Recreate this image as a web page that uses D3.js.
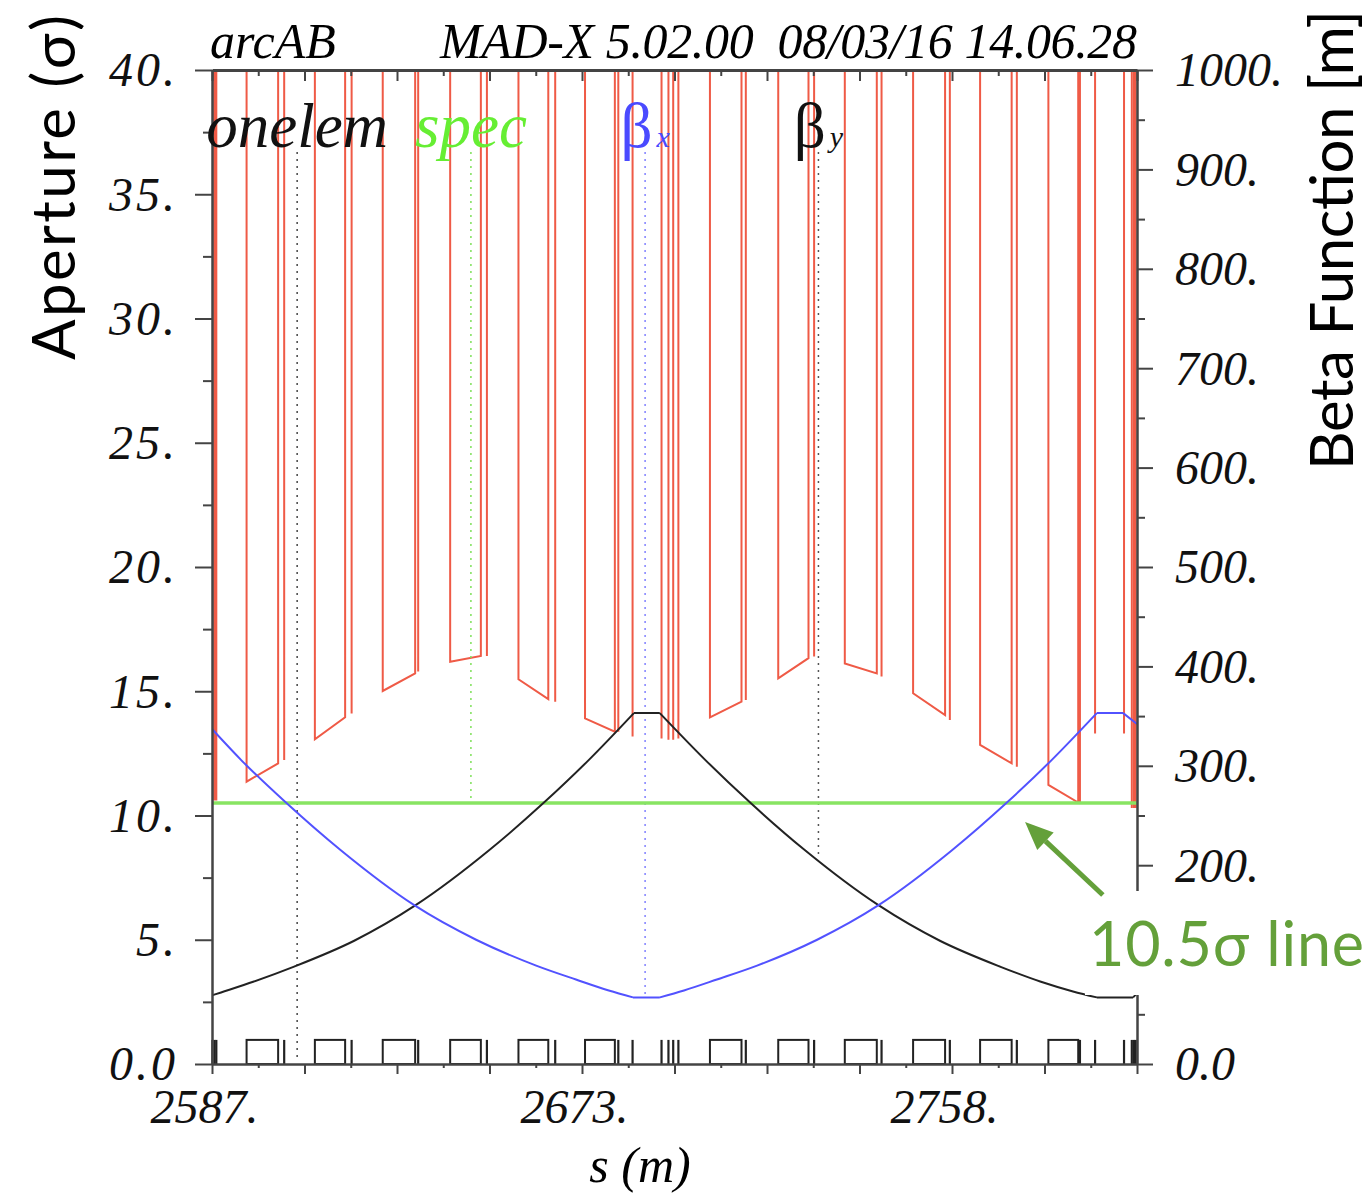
<!DOCTYPE html>
<html>
<head>
<meta charset="utf-8">
<script src="https://cdn.jsdelivr.net/npm/d3@7/dist/d3.min.js"></script>
<style>
	body { margin: 0; background: #fff; }
	text.serif { font-family: "Liberation Serif", "DejaVu Serif", serif; font-style: italic; }
	text.sans { font-family: Lato, "Open Sans", sans-serif; }
</style>
</head>
<body>
<svg id="plot" width="1371" height="1194"></svg>
<script>

// s range of the plot and x tick layout (MAD-X style, labels every 4th major tick)
const S_RANGE = [2587, 2801];
const X_MAJOR_TICKS = d3.range(0, 11).map(k => 2587 + 21.4 * k);
const X_MINOR_TICKS = d3.range(0, 10).map(k => 2587 + 21.4 * k + 10.7);
const X_TICK_LABELS = ['2587.', '', '', '', '2673.', '', '', '', '2758.', '', ''];

const AP_TICKS = [0, 5, 10, 15, 20, 25, 30, 35, 40];
const AP_TICK_LABELS = ['0.0', '5.', '10.', '15.', '20.', '25.', '30.', '35.', '40.'];
const AP_MINOR = [2.5, 7.5, 12.5, 17.5, 22.5, 27.5, 32.5, 37.5];

// the 100. label sits under the annotation box in the original
const BETA_TICKS = [0, 100, 200, 300, 400, 500, 600, 700, 800, 900, 1000];
const BETA_TICK_LABELS = ['0.0', '', '200.', '300.', '400.', '500.', '600.', '700.', '800.', '900.', '1000.'];
const BETA_MINOR = [50, 150, 250, 350, 450, 550, 650, 750, 850, 950];

// dipoles: aperture (sigma) at entrance and exit
const dipoleStart = [2595.0, 2610.8, 2626.5, 2642.1, 2657.9, 2673.3, 2702.2, 2718.0, 2733.4, 2749.2, 2764.7, 2780.5];
const dipoleEnd   = [2602.3, 2617.8, 2634.0, 2649.2, 2664.8, 2680.2, 2709.5, 2725.0, 2740.8, 2756.6, 2772.0, 2787.4];
const dipoleApIn  = [11.36, 13.07, 15.01, 16.19, 15.48, 13.91, 13.95, 15.52, 16.12, 14.92, 12.84, 11.23];
const dipoleApOut = [12.10, 13.95, 15.72, 16.42, 14.68, 13.37, 14.58, 16.33, 15.72, 14.04, 12.10, 10.52];

// short elements (quads, correctors, markers)
const thinS  = [2587.1, 2587.6, 2588.0, 2603.7, 2619.3, 2634.7, 2650.6, 2666.4, 2681.0, 2684.3, 2691.0, 2692.6,
                2693.7, 2694.9, 2710.5, 2726.3, 2741.9, 2757.7, 2773.2, 2787.8, 2791.3, 2798.0, 2799.8, 2800.3, 2800.7];
const thinAp = [10.6, 10.6, 10.6, 12.23, 14.1, 15.79, 16.42, 14.58, 13.37, 13.18, 13.1, 13.05,
                13.05, 13.1, 14.65, 16.4, 15.59, 13.84, 11.96, 10.5, 13.3, 13.3, 10.3, 10.3, 10.3];

// beta functions (m)
const betxS = [2587.0, 2593.7, 2604.1, 2616.8, 2633.7, 2648.1, 2662.0, 2671.2, 2678.8, 2684.4, 2690.6, 2696.2,
               2703.8, 2713.1, 2727.0, 2741.3, 2758.2, 2770.9, 2781.3, 2791.7, 2797.8, 2801.0];
const betxV = [337, 306, 263, 215, 160, 125, 99, 85, 74, 67, 67, 74,
               85, 99, 125, 160, 215, 263, 306, 353, 353, 342];
const betyS = [2587.0, 2589.1, 2596.7, 2606.0, 2619.9, 2634.2, 2651.1, 2663.8, 2674.2, 2684.6, 2690.6, 2701.1,
               2711.5, 2724.2, 2741.1, 2755.4, 2769.3, 2778.6, 2786.2, 2791.7, 2800.1, 2801.0];
const betyV = [69, 72, 83, 98, 124, 160, 215, 263, 306, 353, 353, 306,
               263, 215, 160, 124, 98, 83, 73, 67, 67, 71];

const LIMIT_SIGMA = 10.5;

// legend labels with their dotted pointer lines
const legendNames = ['onelem', 'spec', 'β', 'β'];
const legendSubs  = ['', '', 'x', 'y'];
const legendColors = ['#111', '#66ee33', '#4a4aff', '#111'];
const legendS = [2606.7, 2646.9, 2687.2, 2727.3];
const legendLineEnd = [0.1, 10.7, 2.66, 8.45];   // sigma units
const dotColors = ['#444', '#7ee05a', '#8080ff', '#555'];

// annotation arrow (data coords: s, sigma)
const arrowTail = [2793.1, 6.8];
const arrowHead = [2775.1, 9.74];

const svg = d3.select('#plot');

const x = d3.scaleLinear().domain(S_RANGE).range([212, 1137]);
const yAp = d3.scaleLinear().domain([0, 40]).range([1064, 70]);
const yBeta = d3.scaleLinear().domain([0, 1000]).range([1064, 70]);

svg.append('defs').append('clipPath').attr('id', 'clip')
	.append('rect')
	.attr('x', x(S_RANGE[0])).attr('y', yAp(40))
	.attr('width', x(S_RANGE[1]) - x(S_RANGE[0]))
	.attr('height', yAp(0) - yAp(40));

const plot = svg.append('g').attr('clip-path', 'url(#clip)');

// aperture polyline: each element drops down from far above the frame
const OFF = 45;
let groups = [];
dipoleStart.forEach((s0, i) => {
	groups.push([[s0, OFF], [s0, dipoleApIn[i]], [dipoleEnd[i], dipoleApOut[i]], [dipoleEnd[i], OFF]]);
});
thinS.forEach((s, i) => {
	groups.push([[s, OFF], [s, thinAp[i]], [s, OFF]]);
});
groups.sort((a, b) => a[0][0] - b[0][0]);
const apPts = groups.flat();

const apLine = d3.line().x(d => x(d[0])).y(d => yAp(d[1]));
plot.append('path')
	.attr('d', apLine(apPts))
	.attr('fill', 'none')
	.attr('stroke', '#ef5a46')
	.attr('stroke-width', 2)
	.attr('stroke-linejoin', 'miter');

// dotted pointer lines
plot.selectAll('line.pointer')
	.data(legendS)
	.enter()
	.append('line')
		.attr('x1', d => x(d)).attr('x2', d => x(d))
		.attr('y1', 152)
		.attr('y2', (d, i) => yAp(legendLineEnd[i]))
		.attr('stroke', (d, i) => dotColors[i])
		.attr('stroke-width', 1.5)
		.attr('stroke-dasharray', '2,5');

// 10.5 sigma line
plot.append('path')
	.attr('d', apLine([[S_RANGE[0], LIMIT_SIGMA], [S_RANGE[1], LIMIT_SIGMA]]))
	.attr('stroke', '#88e462')
	.attr('stroke-width', 3.5);

// split a beta curve at its flat (inside-quad) stretches so the corners stay sharp
function betaSegments(sArr, vArr) {
	const pts = sArr.map((s, i) => [s, vArr[i]]);
	const segs = [];
	let cur = [pts[0]];
	for (let i = 1; i < pts.length; i++) {
		const flat = pts[i][1] === pts[i - 1][1];
		const prevFlat = cur.length === 2 && cur[0][1] === cur[1][1];
		if (flat || prevFlat) {
			if (cur.length > 1 && !(flat && prevFlat)) { segs.push(cur); cur = [pts[i - 1]]; }
		}
		cur.push(pts[i]);
	}
	segs.push(cur);
	return segs;
}

const betaLine = d3.line().curve(d3.curveMonotoneX).x(d => x(d[0])).y(d => yBeta(d[1]));
plot.append('path')
	.attr('d', betaSegments(betyS, betyV).map(betaLine).join(''))
	.attr('fill', 'none').attr('stroke', '#222').attr('stroke-width', 2);
plot.append('path')
	.attr('d', betaSegments(betxS, betxV).map(betaLine).join(''))
	.attr('fill', 'none').attr('stroke', '#5252ff').attr('stroke-width', 2);

// element layout along the s axis
const layout = svg.append('g');
layout.selectAll('rect')
	.data(dipoleStart)
	.enter()
	.append('rect')
		.attr('x', d => x(d))
		.attr('y', yAp(0.97))
		.attr('width', (d, i) => x(dipoleEnd[i]) - x(d))
		.attr('height', yAp(0) - yAp(0.97))
		.attr('fill', 'none').attr('stroke', '#222').attr('stroke-width', 2);
layout.selectAll('line')
	.data(thinS)
	.enter()
	.append('line')
		.attr('x1', d => x(d)).attr('x2', d => x(d))
		.attr('y1', yAp(0)).attr('y2', yAp(0.97))
		.attr('stroke', '#222').attr('stroke-width', 2.2);

// axes
const LABEL_SIZE = 48;
function styleAxis(g) {
	g.selectAll('.domain').attr('stroke', '#444').attr('stroke-width', 2.5);
	g.selectAll('.tick line').attr('stroke', '#444').attr('stroke-width', 2);
	g.selectAll('.tick text')
		.attr('class', 'serif')
		.attr('fill', '#111')
		.style('font-size', LABEL_SIZE + 'px');
}

const xBottom = svg.append('g').attr('transform', `translate(0,${yAp(0)})`)
	.call(d3.axisBottom(x).tickValues(X_MAJOR_TICKS).tickSize(10).tickSizeOuter(0)
		.tickFormat((d, i) => X_TICK_LABELS[i]));
styleAxis(xBottom);
xBottom.selectAll('.tick text').attr('y', 59).attr('dy', 0).attr('dx', -8);
svg.append('g').attr('transform', `translate(0,${yAp(0)})`)
	.call(d3.axisBottom(x).tickValues(X_MINOR_TICKS).tickSize(4).tickFormat(''))
	.call(g => { g.select('.domain').remove(); styleAxis(g); });

const xTop = svg.append('g').attr('transform', `translate(0,${yAp(40)})`)
	.call(d3.axisTop(x).tickValues(X_MAJOR_TICKS).tickSize(-11).tickSizeOuter(0).tickFormat(''));
styleAxis(xTop);
xTop.select('.domain').attr('stroke-width', 3);
svg.append('g').attr('transform', `translate(0,${yAp(40)})`)
	.call(d3.axisTop(x).tickValues(X_MINOR_TICKS).tickSize(-6).tickFormat(''))
	.call(g => { g.select('.domain').remove(); styleAxis(g); });

const yLeft = svg.append('g').attr('transform', `translate(${x(S_RANGE[0])},0)`)
	.call(d3.axisLeft(yAp).tickValues(AP_TICKS).tickSize(17).tickSizeOuter(0)
		.tickPadding(17).tickFormat((d, i) => AP_TICK_LABELS[i]));
styleAxis(yLeft);
yLeft.selectAll('.tick text').attr('dy', '0.33em').style('letter-spacing', '3px');
svg.append('g').attr('transform', `translate(${x(S_RANGE[0])},0)`)
	.call(d3.axisLeft(yAp).tickValues(AP_MINOR).tickSize(9).tickFormat(''))
	.call(g => { g.select('.domain').remove(); styleAxis(g); });

const yRight = svg.append('g').attr('transform', `translate(${x(S_RANGE[1])},0)`)
	.call(d3.axisRight(yBeta).tickValues(BETA_TICKS).tickSize(16).tickSizeOuter(0)
		.tickPadding(22).tickFormat((d, i) => BETA_TICK_LABELS[i]));
styleAxis(yRight);
yRight.selectAll('.tick text').attr('dy', '0.33em');
svg.append('g').attr('transform', `translate(${x(S_RANGE[1])},0)`)
	.call(d3.axisRight(yBeta).tickValues(BETA_MINOR).tickSize(8).tickFormat(''))
	.call(g => { g.select('.domain').remove(); styleAxis(g); });

// header
svg.append('text').attr('class', 'serif')
	.attr('x', 210).attr('y', 58)
	.style('font-size', '50px')
	.text('arcAB');
svg.append('text').attr('class', 'serif')
	.attr('x', 440).attr('y', 58)
	.attr('textLength', 697)
	.style('font-size', '50px')
	.style('white-space', 'pre')
	.text('MAD-X 5.02.00  08/03/16 14.06.28');

// legend labels
legendNames.forEach((name, i) => {
	const t = svg.append('text')
		.attr('class', 'serif')
		.attr('x', x(legendS[i]))
		.attr('y', 147)
		.attr('text-anchor', 'middle')
		.attr('fill', legendColors[i])
		.style('font-size', '63px');
	if (legendSubs[i]) {
		t.append('tspan').style('font-style', 'normal').text(name);
		t.append('tspan').style('font-size', '30px').attr('dx', 4).text(legendSubs[i]);
	} else {
		t.text(name);
	}
});

// axis titles
svg.append('text').attr('class', 'sans')
	.attr('transform', 'translate(75,360) rotate(-90)')
	.style('font-size', '60px')
	.attr('textLength', 345)
	.text('Aperture (σ)');
svg.append('text').attr('class', 'sans')
	.attr('transform', 'translate(1353,470) rotate(-90)')
	.style('font-size', '60px')
	.attr('textLength', 460)
	.text('Beta Function [m]');
svg.append('text').attr('class', 'serif')
	.attr('x', 640).attr('y', 1182)
	.attr('text-anchor', 'middle')
	.style('font-size', '50px')
	.text('s (m)');

// 10.5 sigma annotation
svg.append('rect')
	.attr('x', 1085).attr('y', 891)
	.attr('width', 286).attr('height', 104)
	.attr('fill', '#fff');
svg.append('text').attr('class', 'sans')
	.attr('x', 1089).attr('y', 966)
	.attr('fill', '#64a03a')
	.style('font-size', '61px')
	.attr('textLength', 275)
	.text('10.5σ line');

const ax0 = x(arrowTail[0]), ay0 = yAp(arrowTail[1]);
const ax1 = x(arrowHead[0]), ay1 = yAp(arrowHead[1]);
const ang = Math.atan2(ay1 - ay0, ax1 - ax0);
const headLen = 28, headHalf = 12;
const bx = ax1 - headLen * Math.cos(ang), by = ay1 - headLen * Math.sin(ang);
svg.append('line')
	.attr('x1', ax0).attr('y1', ay0).attr('x2', bx).attr('y2', by)
	.attr('stroke', '#64a03a').attr('stroke-width', 5);
svg.append('path')
	.attr('d', `M${ax1},${ay1} L${bx + headHalf * Math.sin(ang)},${by - headHalf * Math.cos(ang)} L${bx - headHalf * Math.sin(ang)},${by + headHalf * Math.cos(ang)} Z`)
	.attr('fill', '#64a03a');

</script>
</body>
</html>
